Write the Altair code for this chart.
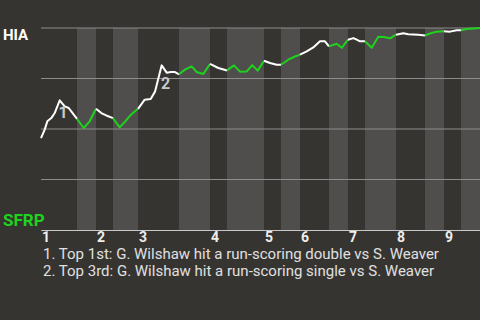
import altair as alt
import pandas as pd

# Game progress (% of plays) and HIA win probability
prog = [0.0, 0.84, 1.44, 2.35, 3.12, 4.26, 5.40, 6.31, 6.90, 8.20,
        9.73, 11.09, 12.53, 13.74, 14.87, 16.40, 17.93, 19.20, 20.50, 22.10,
        23.62, 24.99, 25.97, 27.49, 28.63, 29.61, 30.52, 31.44, 32.80, 34.33,
        35.47, 36.97, 38.50, 40.39, 42.37, 43.96, 45.33, 46.86, 48.13, 49.36,
        50.80, 52.16, 53.69, 54.67, 56.33, 57.86, 59.00, 60.52, 62.03, 63.55,
        64.69, 65.60, 67.36, 68.50, 69.93, 71.14, 71.91, 72.67, 73.80, 75.33,
        76.83, 78.13, 79.50, 80.87, 82.53, 83.67, 85.95, 87.47, 88.61, 90.14,
        91.80, 93.17, 94.69, 95.67, 96.97, 98.47, 100.0]
winp = [0.455, 0.497, 0.538, 0.554, 0.579, 0.642, 0.612, 0.604, 0.587, 0.550,
        0.505, 0.538, 0.600, 0.579, 0.567, 0.554, 0.508, 0.538, 0.571, 0.600,
        0.645, 0.649, 0.685, 0.815, 0.779, 0.782, 0.782, 0.771, 0.794, 0.810,
        0.782, 0.772, 0.822, 0.802, 0.790, 0.815, 0.784, 0.785, 0.816, 0.789,
        0.838, 0.827, 0.818, 0.818, 0.843, 0.859, 0.868, 0.884, 0.904, 0.934,
        0.934, 0.909, 0.922, 0.902, 0.942, 0.950, 0.942, 0.934, 0.934, 0.902,
        0.957, 0.955, 0.949, 0.967, 0.974, 0.969, 0.967, 0.963, 0.973, 0.982,
        0.984, 0.982, 0.989, 0.989, 0.995, 0.998, 1.0]

# Half-inning boundaries (same progress units)
half_bounds = [0.0, 8.20, 12.53, 16.40, 22.10, 31.44, 38.50, 42.37, 50.80,
               54.67, 59.00, 65.60, 69.93, 73.80, 80.87, 87.47, 91.80, 95.67, 100.0]
innings = ["1", "2", "3", "4", "5", "6", "7", "8", "9"]

notes_num = ["1", "2"]
notes_x = [5.01, 28.36]
notes_p = [0.578, 0.724]
footnotes = ["1. Top 1st: G. Wilshaw hit a run-scoring double vs S. Weaver",
             "2. Top 3rd: G. Wilshaw hit a run-scoring single vs S. Weaver"]

DARK = "#363431"
LIGHT = "#4f4e4c"
GREEN = "#1ed21e"
FONT = "Roboto"

bands = pd.DataFrame({
    "x0": half_bounds[:-1],
    "x1": half_bounds[1:],
    "half": ["top" if i % 2 == 0 else "bot" for i in range(len(half_bounds) - 1)],
})

rows = []
eps = 1e-6
for i in range(len(half_bounds) - 1):
    a, b = half_bounds[i], half_bounds[i + 1]
    h = "top" if i % 2 == 0 else "bot"
    for x, p in zip(prog, winp):
        if a - eps <= x <= b + eps:
            rows.append({"x": x, "p": p, "seg": i, "half": h})
line_df = pd.DataFrame(rows)

inn_df = pd.DataFrame({"x": half_bounds[0:-1:2], "label": innings})
ann_df = pd.DataFrame({"x": notes_x, "p": notes_p, "label": notes_num})

xs = alt.Scale(domain=[0, 100], nice=False, zero=False)
ys = alt.Scale(domain=[0, 1], nice=False)
xaxis = alt.Axis(domainColor="#c8c8c8", domainWidth=1, labels=False, ticks=False, grid=False, title=None)
yaxis = alt.Axis(domainColor="#c8c8c8", domainWidth=1, labels=False, ticks=False, grid=False, title=None)

band_layer = alt.Chart(bands).mark_rect().encode(
    x=alt.X("x0:Q", scale=xs, axis=xaxis),
    x2=alt.X2("x1:Q"),
    color=alt.Color("half:N", scale=alt.Scale(domain=["top", "bot"], range=[DARK, LIGHT]), legend=None),
)

grid_layer = alt.Chart(pd.DataFrame({"p": [0.25, 0.5, 0.75, 1.0]})).mark_rule(
    color="#8c8c8c", strokeWidth=1
).encode(y=alt.Y("p:Q", scale=ys, axis=yaxis))

line_layer = alt.Chart(line_df).mark_line(strokeWidth=2, strokeJoin="round").encode(
    x=alt.X("x:Q", scale=xs, axis=xaxis),
    y=alt.Y("p:Q", scale=ys, axis=yaxis),
    detail="seg:N",
    stroke=alt.Stroke("half:N", scale=alt.Scale(domain=["top", "bot"], range=["#ffffff", GREEN]), legend=None),
)

ann_layer = alt.Chart(ann_df).mark_text(
    font=FONT, fontSize=16, fontWeight="bold", color="#c8c8c8", align="center", baseline="middle"
).encode(x=alt.X("x:Q", scale=xs, axis=xaxis), y=alt.Y("p:Q", scale=ys, axis=yaxis), text="label:N")

inn_layer = alt.Chart(inn_df).mark_text(
    font=FONT, fontSize=14, fontWeight="bold", color="#eeeeee", align="left", baseline="alphabetic", dx=1
).encode(x=alt.X("x:Q", scale=xs, axis=xaxis), y=alt.value(214), text="label:N")

foot1 = alt.Chart(pd.DataFrame({"t": [footnotes[0]]})).mark_text(
    font=FONT, fontSize=15, color="#e0e0e0", align="left", baseline="alphabetic"
).encode(x=alt.value(2), y=alt.value(231), text="t:N")

foot2 = alt.Chart(pd.DataFrame({"t": [footnotes[1]]})).mark_text(
    font=FONT, fontSize=15, color="#e0e0e0", align="left", baseline="alphabetic"
).encode(x=alt.value(2), y=alt.value(248), text="t:N")

hia_layer = alt.Chart(pd.DataFrame({"t": ["HIA"]})).mark_text(
    font=FONT, fontSize=15, fontWeight="bold", color="#ffffff", align="left", baseline="alphabetic"
).encode(x=alt.value(-38), y=alt.value(11.7), text="t:N")

sfrp_layer = alt.Chart(pd.DataFrame({"t": ["SFRP"]})).mark_text(
    font=FONT, fontSize=17, fontWeight="bold", color=GREEN, align="left", baseline="alphabetic"
).encode(x=alt.value(-38), y=alt.value(197.7), text="t:N")

chart = alt.layer(
    band_layer, grid_layer, line_layer, ann_layer, inn_layer, foot1, foot2, hia_layer, sfrp_layer
).resolve_scale(color="independent").properties(
    width=439, height=202,
    autosize=alt.AutoSizeParams(type="none"),
    padding={"left": 41, "top": 28, "right": 0, "bottom": 90},
    background=DARK,
).configure_view(stroke=None)

chart.save("out.html", embed_options={"renderer": "svg", "actions": False})
